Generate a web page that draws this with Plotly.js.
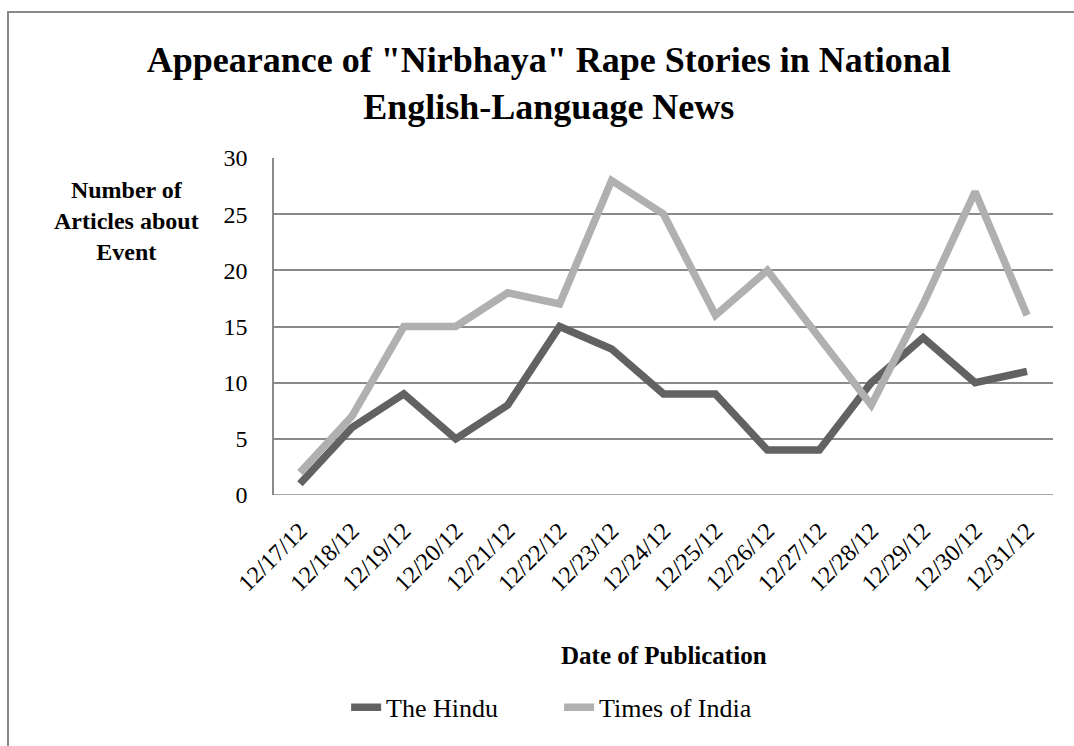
<!DOCTYPE html>
<html>
<head>
<meta charset="utf-8">
<script src="https://cdn.plot.ly/plotly-3.0.1.min.js"></script>
<style>
  html, body { margin: 0; padding: 0; background: #fff; }
  #wrap { position: relative; width: 1074px; height: 746px; }
  #chart { width: 1074px; height: 746px; }
  #frame { position: absolute; left: 7px; top: 11px; width: 1080px; height: 760px;
           border-left: 2px solid #8a8a8a; border-top: 2px solid #8a8a8a; pointer-events: none; }
</style>
</head>
<body>
<div id="wrap">
  <div id="chart"></div>
  <div id="frame"></div>
</div>
<script>
const dates = ["12/17/12","12/18/12","12/19/12","12/20/12","12/21/12","12/22/12","12/23/12","12/24/12","12/25/12","12/26/12","12/27/12","12/28/12","12/29/12","12/30/12","12/31/12"];
const theHindu = [1,6,9,5,8,15,13,9,9,4,4,10,14,10,11];
const timesOfIndia = [2,7,15,15,18,17,28,25,16,20,14,8,17,27,16];
const yTicks = [0,5,10,15,20,25,30];

const serif = "Liberation Serif, Times New Roman, serif";

const traces = [
  { x: dates, y: theHindu, name: "The Hindu", type: "scatter", mode: "lines",
    line: { color: "#626262", width: 7.5 } },
  { x: dates, y: timesOfIndia, name: "Times of India", type: "scatter", mode: "lines",
    line: { color: "#b0b0b0", width: 7.5 } }
];

const layout = {
  width: 1074, height: 746,
  margin: { l: 274, r: 21, t: 158, b: 251 },
  paper_bgcolor: "#fff", plot_bgcolor: "#fff",
  title: { text: "Appearance of \"Nirbhaya\" Rape Stories in National<br>English-Language News",
           font: { family: serif, size: 36, color: "#000", weight: "bold" },
           x: 0.511, xanchor: "center", y: 0.903, yanchor: "top" },
  showlegend: true,
  legend: { orientation: "h", x: 0.366, xanchor: "center", y: -0.63, yanchor: "middle",
            entrywidth: 168, entrywidthmode: "pixels",
            font: { family: serif, size: 26, color: "#000" } },
  xaxis: { type: "category", range: [-0.5, 14.5], tickangle: -45,
           tickfont: { family: serif, size: 24, color: "#000" },
           showgrid: false, zeroline: false, showline: false, ticks: "", ticklabelstandoff: 16 },
  yaxis: { range: [0, 30], tickvals: yTicks, ticktext: yTicks.map(String),
           tickfont: { family: serif, size: 24, color: "#000" },
           showgrid: true, gridcolor: "#8a8a8a", gridwidth: 1.5,
           zeroline: false, showline: true, linecolor: "#8a8a8a", linewidth: 1.5,
           ticks: "", ticklabelstandoff: 20 },
  shapes: [
    { type: "line", xref: "paper", yref: "y", x0: 0, x1: 1, y0: 0, y1: 0,
      line: { color: "#8a8a8a", width: 1.5 } }
  ],
  annotations: [
    { text: "<b>Number of<br>Articles about<br>Event</b>", xref: "paper", yref: "paper",
      x: -0.189, y: 0.812, xanchor: "center", yanchor: "middle", showarrow: false, align: "center",
      font: { family: serif, size: 24, color: "#000" } },
    { text: "<b>Date of Publication</b>", xref: "paper", yref: "paper",
      x: 0.5, y: -0.475, xanchor: "center", yanchor: "middle", showarrow: false,
      font: { family: serif, size: 25, color: "#000" } }
  ]
};

Plotly.newPlot("chart", traces, layout, { displayModeBar: false, responsive: false });
</script>
</body>
</html>
